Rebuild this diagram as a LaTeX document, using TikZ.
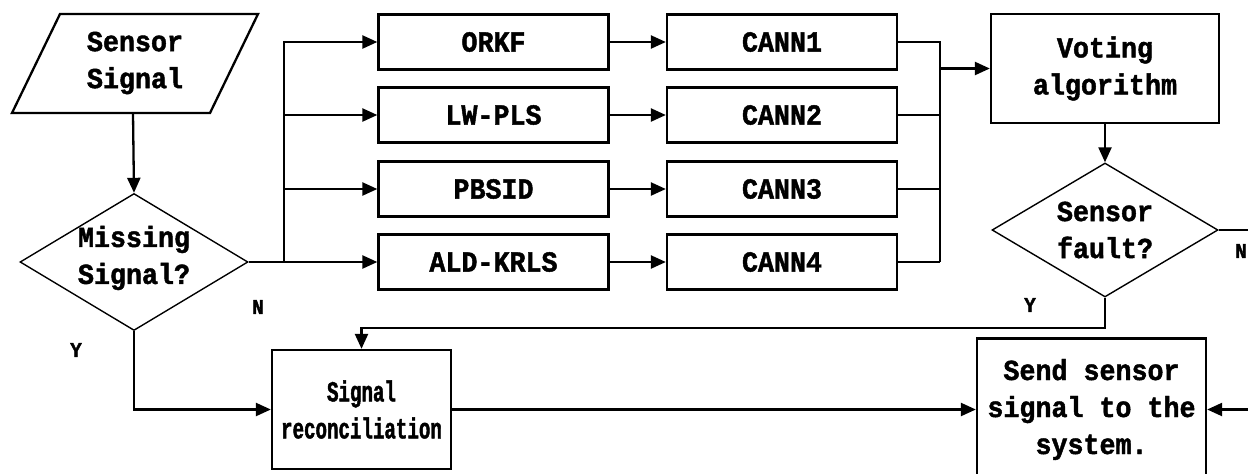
\documentclass[tikz,border=0pt]{standalone}
\usepackage{fontspec}
\newfontfamily\flowfont[FakeStretch=0.92,FakeBold=1.5]{Liberation Mono Bold}
\newfontfamily\flownarrow[FakeStretch=0.66,FakeBold=1.5]{Liberation Mono Bold}
\usetikzlibrary{shapes.geometric,arrows.meta}
\begin{document}
\begin{tikzpicture}[x=1pt,y=-1pt,
  every node/.style={inner sep=0pt},
  line/.style={line width=2.3pt},
  arr/.style={line, -{Triangle[length=15pt,width=13pt]}},
  txt/.style={font=\flowfont\fontsize{29}{37}\selectfont, align=center},
  stepbox/.style={draw, line width=2.3pt, minimum width=230pt, minimum height=55pt,
    font=\flowfont\fontsize{29}{37}\selectfont, align=center},
  decision/.style={draw, diamond, line width=1.4pt},
  yn/.style={font=\flowfont\fontsize{21}{24}\selectfont}]
\useasboundingbox (0,0) rectangle (1248,474);
\clip (0,0) rectangle (1248,474);
\fill[white] (0,0) rectangle (1248,474);

% input parallelogram
\draw[line] (60,14) -- (258,14) -- (210,113) -- (12,113) -- cycle;
\node[txt] (sensor) at (135,63) {Sensor\\Signal};
\coordinate (sensorout) at (133,113);

% decision: missing signal
\node[decision, minimum width=228pt, minimum height=137pt] (miss) at (134,262) {};
\node[txt] (misstxt) at (134,258) {Missing\\Signal?};

% estimator boxes
\node[stepbox] (orkf)  at (493.5,42)  {ORKF};
\node[stepbox] (lwpls) at (493.5,115) {LW-PLS};
\node[stepbox] (pbsid) at (493.5,189) {PBSID};
\node[stepbox] (ald)   at (493.5,262) {ALD-KRLS};

% network boxes
\node[stepbox] (cann1) at (782,42)  {CANN1};
\node[stepbox] (cann2) at (782,115) {CANN2};
\node[stepbox] (cann3) at (782,189) {CANN3};
\node[stepbox] (cann4) at (782,262) {CANN4};

% voting and fault check
\node[stepbox, minimum width=228pt, minimum height=109pt] (vote) at (1105,68.5) {Voting\\algorithm};
\node[decision, minimum width=226pt, minimum height=134pt] (fault) at (1105,230) {};
\node[txt] (faulttxt) at (1105,230) {Sensor\\fault?};

% reconciliation and output
\node[stepbox, minimum width=179pt, minimum height=119pt,
  font=\flownarrow\fontsize{29}{37}\selectfont] (recon) at (361.5,409.5) {Signal\\reconciliation};
\node[stepbox, minimum width=229pt, minimum height=142pt] (send) at (1091.5,409.5) {Send sensor\\signal to the\\system.};

% branch labels
\node[yn] (n1) at (258,307) {N};
\node[yn] (y1) at (76,350) {Y};
\node[yn] (y2) at (1030,305) {Y};
\node[yn] (n2) at (1241,251) {N};

% connectors
\coordinate (bus) at (284,262);
\coordinate (join) at (940,262);
\coordinate (outN) at (1252,230);
\coordinate (inR) at (1252,409.5);

\draw[arr] (sensorout) -- (miss.north);
\draw[arr] (miss.east) -- (ald.west);
\draw[arr] (bus) |- (orkf.west);
\draw[arr] (bus) |- (lwpls.west);
\draw[arr] (bus) |- (pbsid.west);

\draw[arr] (orkf.east) -- (cann1.west);
\draw[arr] (lwpls.east) -- (cann2.west);
\draw[arr] (pbsid.east) -- (cann3.west);
\draw[arr] (ald.east) -- (cann4.west);

\draw[line] (cann1.east) -| (join);
\draw[line] (cann2.east) -- (cann2.east -| join);
\draw[line] (cann3.east) -- (cann3.east -| join);
\draw[line] (cann4.east) -- (join);
\draw[arr] (vote.west -| join) -- (vote.west);

\draw[arr] (vote.south) -- (fault.north);
\draw[line] (fault.east) -- (outN);
\draw[arr] (fault.south) -- ++(0,30) -| (recon.north);

\draw[arr] (miss.south) |- (recon.west);
\draw[arr] (recon.east) -- (send.west);
\draw[arr] (inR) -- (send.east);
\end{tikzpicture}
\end{document}
